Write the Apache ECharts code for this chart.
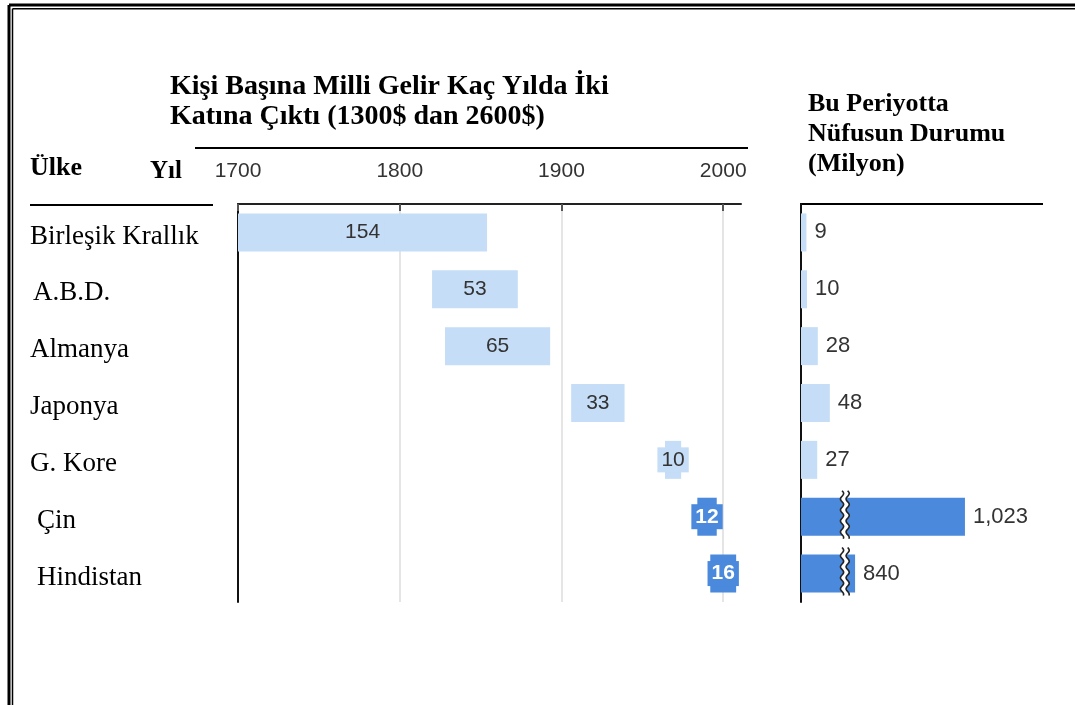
<!DOCTYPE html>
<html><head><meta charset="utf-8">
<script src="https://cdn.jsdelivr.net/npm/echarts@6/dist/echarts.min.js"></script>
<style>html,body{margin:0;padding:0;background:#fff}#c{width:1075px;height:705px}</style>
</head><body><div id="c"></div>
<script>
// ---- data ----
const countries = ['Birleşik Krallık', 'A.B.D.', 'Almanya', 'Japonya', 'G. Kore', 'Çin', 'Hindistan'];
const startYears = [1700, 1820, 1828, 1906, 1964, 1984, 1992];
const doublingYears = [154, 53, 65, 33, 10, 12, 16];
const population = [9, 10, 28, 48, 27, 1023, 840];
const highlighted = [false, false, false, false, false, true, true];
const yearAxis = { min: 1700, max: 2011, step: 100 };
const popBreak = { start: 68, end: 828 };
const titleLines = ['Kişi Başına Milli Gelir Kaç Yılda İki', 'Katına Çıktı (1300$ dan 2600$)'];
const rightTitleLines = ['Bu Periyotta', 'Nüfusun Durumu', '(Milyon)'];

// ---- style ----
const LIGHT = '#c5ddf6', DARK = '#4a89dc';
const SERIF = '"Liberation Serif", "DejaVu Serif", serif';
const SANS = '"Liberation Sans", Arial, sans-serif';
const indents = [0, 3, 0, 0, 0, 7, 7];

const chart = echarts.init(document.getElementById('c'), null, { renderer: 'canvas' });

const durationData = doublingYears.map((v, i) => ({
  value: v,
  itemStyle: { color: highlighted[i] ? DARK : LIGHT },
  label: {
    backgroundColor: highlighted[i] ? DARK : LIGHT,
    color: highlighted[i] ? '#fff' : '#333',
    fontWeight: highlighted[i] ? 'bold' : 'normal'
  }
}));
const popData = population.map((v, i) => ({
  value: v,
  itemStyle: { color: highlighted[i] ? DARK : LIGHT }
}));
const breakMarks = population
  .map((v, i) => (v > popBreak.end ? [popBreak.start, popBreak.end, i] : null))
  .filter(Boolean);

function wave(x, y0, y1, amp, period) {
  const pts = [];
  for (let y = y0; y <= y1 + 0.01; y += 1) {
    pts.push([x + amp * Math.sin(((y - y0) / period) * Math.PI * 2), y]);
  }
  return pts;
}

const line = (x1, y1, x2, y2, w) => ({
  type: 'line', silent: true,
  shape: { x1, y1, x2, y2 },
  style: { stroke: '#000', lineWidth: w }
});
const txt = (x, y, text, font) => ({
  type: 'text', left: x, top: y, silent: true,
  style: { text, font, fill: '#000' }
});

const graphics = [
  line(9, 5, 1075, 5, 3), line(9, 5, 9, 705, 3),
  line(12.5, 8.75, 1075, 8.75, 1.5), line(12.5, 8.75, 12.5, 705, 1.5),
  line(195, 148, 748, 148, 2),
  line(30, 205, 213, 205, 2),
  line(800, 204, 1043, 204, 2),
  txt(30, 155, 'Ülke', 'bold 26px ' + SERIF),
  txt(150, 159, 'Yıl', 'bold 25px ' + SERIF)
];
titleLines.forEach((t, i) => graphics.push(txt(170, 73 + i * 30, t, 'bold 28px ' + SERIF)));
rightTitleLines.forEach((t, i) => graphics.push(txt(808, 91 + i * 30, t, 'bold 26px ' + SERIF)));

const option = {
  animation: false,
  backgroundColor: '#fff',
  grid: [
    { left: 238, top: 204, width: 503, height: 398, containLabel: false },
    { left: 801, top: 204, width: 242, height: 398, containLabel: false }
  ],
  xAxis: [
    {
      type: 'value', gridIndex: 0, position: 'top',
      min: yearAxis.min, max: yearAxis.max, interval: yearAxis.step,
      axisLine: { show: true, onZero: false, lineStyle: { color: '#222', width: 2 } },
      axisTick: { show: true, inside: true, length: 7, lineStyle: { color: '#555', width: 2 } },
      axisLabel: {
        margin: 22, color: '#333', fontSize: 21, fontFamily: SANS,
        showMaxLabel: false,
        formatter: v => (v % yearAxis.step === 0 ? String(v) : '')
      },
      splitLine: { show: true, showMinLine: false, showMaxLine: false, lineStyle: { color: '#dcdcdc', width: 1.5 } }
    },
    {
      type: 'value', gridIndex: 1, position: 'top', min: 0, max: 1153,
      breaks: [{ start: popBreak.start, end: popBreak.end, gap: '2.5%' }],
      breakArea: { show: false },
      axisLine: { show: false },
      axisTick: { show: false }, axisLabel: { show: false }, splitLine: { show: false }
    }
  ],
  yAxis: [
    {
      type: 'category', gridIndex: 0, data: countries, inverse: true,
      axisLine: { show: true, onZero: false, lineStyle: { color: '#111', width: 2 } },
      axisTick: { show: false },
      axisLabel: {
        margin: 208, align: 'left',
        formatter: (v, i) => '{p' + indents[i] + '|' + v + '}',
        rich: Object.fromEntries([0, 3, 7].map(p => ['p' + p, {
          fontFamily: SERIF, fontSize: 27, color: '#000', padding: [8, 0, 0, p]
        }]))
      }
    },
    {
      type: 'category', gridIndex: 1, data: countries, inverse: true,
      axisLine: { show: true, onZero: false, lineStyle: { color: '#111', width: 2 } },
      axisTick: { show: false }, axisLabel: { show: false }
    }
  ],
  series: [
    {
      type: 'bar', xAxisIndex: 0, yAxisIndex: 0, stack: 'span', silent: true,
      barWidth: 38, itemStyle: { color: 'transparent' }, data: startYears
    },
    {
      type: 'bar', xAxisIndex: 0, yAxisIndex: 0, stack: 'span', barWidth: 38,
      label: {
        show: true, position: 'inside', fontFamily: SANS, fontSize: 21,
        padding: [3, 4, 1, 4]
      },
      data: durationData
    },
    {
      type: 'bar', xAxisIndex: 1, yAxisIndex: 1, barWidth: 38,
      label: {
        show: true, position: 'right', distance: 8, fontFamily: SANS, fontSize: 22, color: '#333',
        formatter: p => p.value.toLocaleString('en-US')
      },
      data: popData
    },
    {
      type: 'custom', xAxisIndex: 1, yAxisIndex: 1, silent: true, z: 5,
      encode: { x: [0, 1], y: 2 },
      clip: false,
      renderItem: (params, api) => {
        const a = api.coord([api.value(0), api.value(2)]);
        const b = api.coord([api.value(1), api.value(2)]);
        const xm = (a[0] + b[0]) / 2;
        const yc = a[1];
        const y0 = yc - 26, y1 = yc + 22;
        const left = wave(xm - 2.8, y0, y1, 1.6, 11);
        const right = wave(xm + 2.8, y0, y1, 1.6, 11);
        return {
          type: 'group',
          children: [
            { type: 'polygon', shape: { points: left.concat(right.slice().reverse()) }, style: { fill: '#fff' } },
            { type: 'polyline', shape: { points: left }, style: { stroke: '#222', lineWidth: 1.6, fill: null } },
            { type: 'polyline', shape: { points: right }, style: { stroke: '#222', lineWidth: 1.6, fill: null } }
          ]
        };
      },
      data: breakMarks
    }
  ],
  graphic: graphics
};
chart.setOption(option);
</script></body></html>
